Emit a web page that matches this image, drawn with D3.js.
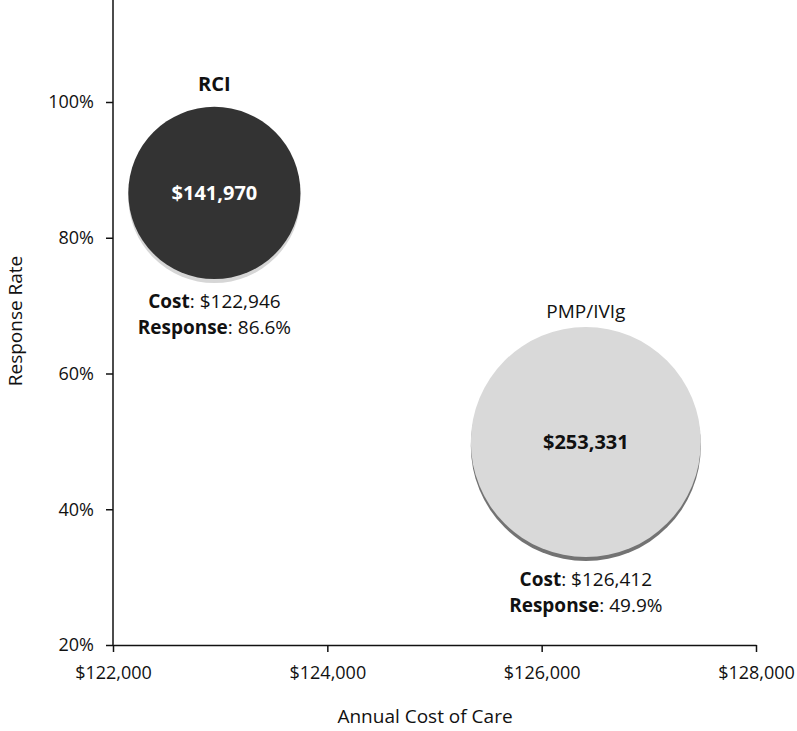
<!DOCTYPE html>
<html>
<head>
<meta charset="utf-8">
<script src="https://cdn.jsdelivr.net/npm/d3@7"></script>
<style>
  body { margin: 0; background: #fff; }
  svg text { font-family: "Open Sans", "Noto Sans", sans-serif; fill: #111; }
  .axis path, .axis line { stroke: #111; stroke-width: 1.5; }
  .axis text { font-size: 18px; }
</style>
</head>
<body>
<div id="chart"></div>
<script>
// Data
const treatments = ["RCI", "PMP/IVIg"];
const annualCost = [122946, 126412];
const responseRate = [86.6, 49.9];
const totalCost = [141970, 253331];
const xTicks = [122000, 124000, 126000, 128000];
const yTicks = [20, 40, 60, 80, 100];

const width = 797, height = 731;
const margin = { top: 0, left: 113, right: 41, bottom: 86 };

const svg = d3.select("#chart")
    .append("svg")
    .attr("width", width)
    .attr("height", height);

const x = d3.scaleLinear()
    .domain([122000, 128000])
    .range([margin.left, width - margin.right]);

const y = d3.scaleLinear()
    .domain([20, 100])
    .range([height - margin.bottom, 102]);

const r = d3.scaleSqrt()
    .domain([0, d3.max(totalCost)])
    .range([0, 115]);

const money = d3.format("$,");

// axes
const xAxis = svg.append("g")
    .attr("class", "axis")
    .attr("transform", "translate(0," + y(20) + ")")
    .call(d3.axisBottom(x).tickValues(xTicks).tickFormat(money).tickSize(7).tickSizeOuter(0));
xAxis.selectAll("text").attr("y", 21);

const yAxis = svg.append("g")
    .attr("class", "axis")
    .attr("transform", "translate(" + margin.left + ",0)")
    .call(d3.axisLeft(y).tickValues(yTicks).tickFormat(d => d + "%").tickSize(7).tickSizeOuter(0));
yAxis.select(".domain").attr("d", "M0," + y(20) + "V0");
yAxis.selectAll("text").attr("x", -19);

svg.append("text")
    .attr("x", 425)
    .attr("y", 723)
    .attr("text-anchor", "middle")
    .style("font-size", "19px")
    .text("Annual Cost of Care");

svg.append("text")
    .attr("transform", "translate(22,321) rotate(-90)")
    .attr("text-anchor", "middle")
    .style("font-size", "19px")
    .text("Response Rate");

// bubbles
const rows = treatments.map((t, i) => ({
    name: t, cost: annualCost[i], resp: responseRate[i], total: totalCost[i], i: i
}));

const fills = ["#333333", "#d9d9d9"];
const shadows = ["#d6d6d6", "#737373"];
const inner = ["#ffffff", "#111111"];

const g = svg.selectAll(".bubble")
    .data(rows)
    .enter()
    .append("g")
    .attr("class", "bubble")
    .attr("transform", d => "translate(" + x(d.cost) + "," + y(d.resp) + ")");

g.append("circle")
    .attr("cy", 4)
    .attr("r", d => r(d.total))
    .attr("fill", d => shadows[d.i]);

g.append("circle")
    .attr("r", d => r(d.total))
    .attr("fill", d => fills[d.i]);

g.append("text")
    .attr("text-anchor", "middle")
    .attr("dy", "0.35em")
    .style("font-size", "20px")
    .style("font-weight", "bold")
    .style("fill", d => inner[d.i])
    .text(d => money(d.total));

g.append("text")
    .attr("text-anchor", "middle")
    .attr("y", d => -r(d.total) - (d.i === 0 ? 16 : 9))
    .style("font-size", d => d.i === 0 ? "20px" : "19px")
    .style("font-weight", d => d.i === 0 ? "bold" : "normal")
    .text(d => d.name);

const costLine = g.append("text")
    .attr("text-anchor", "middle")
    .attr("y", d => r(d.total) + 29)
    .style("font-size", "19px");
costLine.append("tspan").style("font-weight", "bold").text("Cost");
costLine.append("tspan").text(d => ": " + money(d.cost));

const respLine = g.append("text")
    .attr("text-anchor", "middle")
    .attr("y", d => r(d.total) + 55)
    .style("font-size", "19px");
respLine.append("tspan").style("font-weight", "bold").text("Response");
respLine.append("tspan").text(d => ": " + d.resp.toFixed(1) + "%");
</script>
</body>
</html>
